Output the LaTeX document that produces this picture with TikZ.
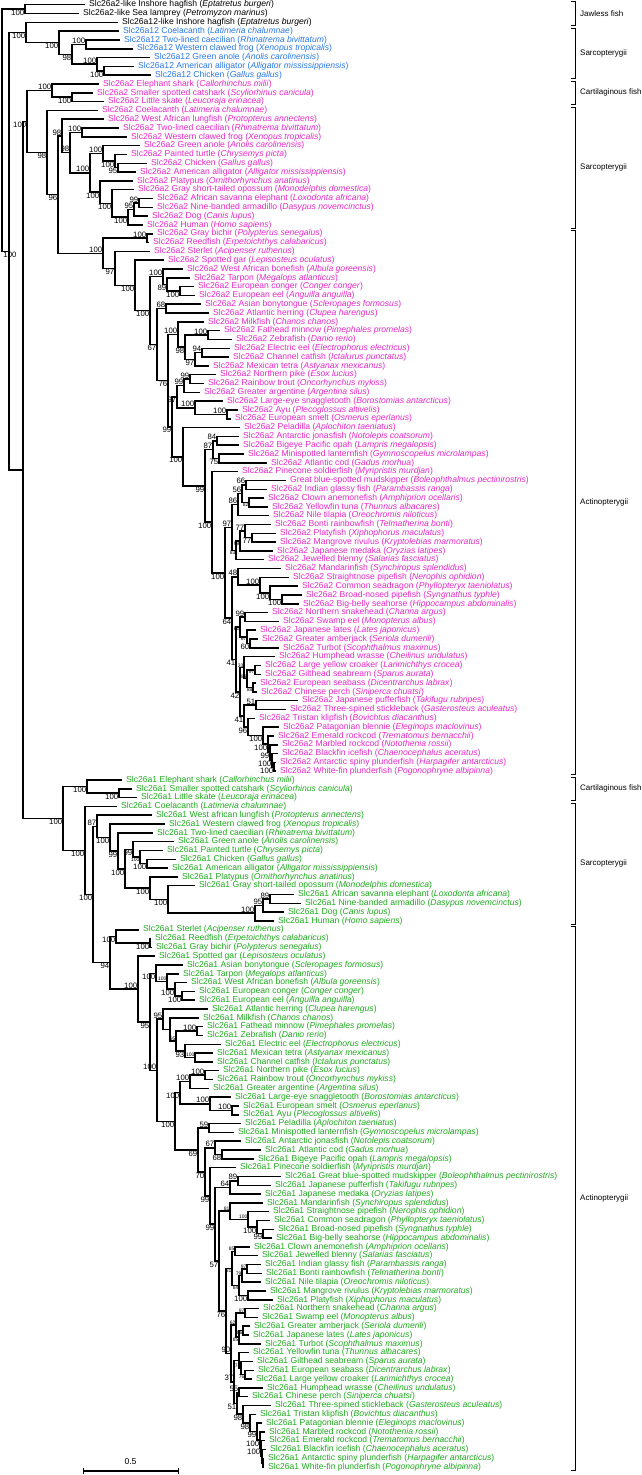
\documentclass[tikz,border=0pt]{standalone}
\usepackage{fontspec}
\setmainfont{Liberation Sans}
\usetikzlibrary{calc}
\definecolor{cblue}{RGB}{40,120,230}
\definecolor{cmag}{RGB}{230,40,200}
\definecolor{cgreen}{RGB}{30,170,30}
\newcommand\sci[1]{(\textit{#1})}
\def\Lt{Slc26a12 }
\def\Lb{Slc26a2 }
\def\La{Slc26a1 }
\def\lcol{black}
\newcommand\lf[4]{%
  \coordinate (#1) at ({#3-4},{4.7+(#2-1)*8.81});
  \node[lab] (#1t) at ({#3},{4.7+(#2-1)*8.81}) {#4};}
\newcommand\nd[6]{%
  \path (#3) -- (#4) coordinate[pos=.5] (#1m);
  \coordinate (#1) at (#2,0 |- #1m);
  \draw[br] (#3) -| (#1) |- (#4);
  \node[bs#6] (#1l) at (#1) {#5};}
\newcommand\clade[4]{%
  \draw[brk] (571,{4.7+(#2-1)*8.81-3}) -- (575,{4.7+(#2-1)*8.81-3}) -- (575,{4.7+(#3-1)*8.81+3}) -- (571,{4.7+(#3-1)*8.81+3});
  \node[clab] (#1) at (580,{4.7+((#2+#3)/2-1)*8.81}) {#4};}
\begin{document}
\begin{tikzpicture}[x=1pt,y=-1pt,
  br/.style={line width=1.5pt},
  brk/.style={line width=0.8pt},
  lab/.style={anchor=west,inner sep=0pt,font=\fontsize{8.6}{9}\selectfont,text=\lcol},
  clab/.style={anchor=west,inner sep=0pt,font=\fontsize{8}{9}\selectfont},
  bsa/.style={anchor=south east,inner sep=0.6pt,font=\fontsize{7.8}{8}\selectfont},
  bsb/.style={anchor=north east,inner sep=0.6pt,font=\fontsize{7.8}{8}\selectfont},
  bsc/.style={anchor=north,inner sep=0.6pt,xshift=1pt,font=\fontsize{7.8}{8}\selectfont},
  bssa/.style={anchor=south east,inner sep=0.3pt,font=\fontsize{5}{5}\selectfont},
  bssb/.style={anchor=north east,inner sep=0.3pt,font=\fontsize{5}{5}\selectfont}]
\useasboundingbox (0,0) rectangle (642,1475);
% ---------- leaves ----------
\def\lcol{black}
\lf{L1}{1}{89}{Slc26a2-like Inshore hagfish \sci{Eptatretus burgeri}}
\lf{L2}{2}{83}{Slc26a2-like Sea lamprey \sci{Petromyzon marinus}}
\lf{L3}{3}{122}{Slc26a12-like Inshore hagfish \sci{Eptatretus burgeri}}
\def\lcol{cblue}
\lf{L4}{4}{123}{\Lt Coelacanth \sci{Latimeria chalumnae}}
\lf{L5}{5}{124}{\Lt Two-lined caecilian \sci{Rhinatrema bivittatum}}
\lf{L6}{6}{137}{\Lt Western clawed frog \sci{Xenopus tropicalis}}
\lf{L7}{7}{154}{\Lt Green anole \sci{Anolis carolinensis}}
\lf{L8}{8}{138}{\Lt American alligator \sci{Alligator mississippiensis}}
\lf{L9}{9}{155}{\Lt Chicken \sci{Gallus gallus}}
\def\lcol{cmag}
\lf{L10}{10}{103}{\Lb Elephant shark \sci{Callorhinchus milii}}
\lf{L11}{11}{97}{\Lb Smaller spotted catshark \sci{Scyliorhinus canicula}}
\lf{L12}{12}{108}{\Lb Little skate \sci{Leucoraja erinacea}}
\lf{L13}{13}{102}{\Lb Coelacanth \sci{Latimeria chalumnae}}
\lf{L14}{14}{108}{\Lb West African lungfish \sci{Protopterus annectens}}
\lf{L15}{15}{123}{\Lb Two-lined caecilian \sci{Rhinatrema bivittatum}}
\lf{L16}{16}{131}{\Lb Western clawed frog \sci{Xenopus tropicalis}}
\lf{L17}{17}{144}{\Lb Green anole \sci{Anolis carolinensis}}
\lf{L18}{18}{131}{\Lb Painted turtle \sci{Chrysemys picta}}
\lf{L19}{19}{151}{\Lb Chicken \sci{Gallus gallus}}
\lf{L20}{20}{140}{\Lb American alligator \sci{Alligator mississippiensis}}
\lf{L21}{21}{137}{\Lb Platypus \sci{Ornithorhynchus anatinus}}
\lf{L22}{22}{138}{\Lb Gray short-tailed opossum \sci{Monodelphis domestica}}
\lf{L23}{23}{157}{\Lb African savanna elephant \sci{Loxodonta africana}}
\lf{L24}{24}{157}{\Lb Nine-banded armadillo \sci{Dasypus novemcinctus}}
\lf{L25}{25}{152}{\Lb Dog \sci{Canis lupus}}
\lf{L26}{26}{147}{\Lb Human \sci{Homo sapiens}}
\lf{L27}{27}{157}{\Lb Gray bichir \sci{Polypterus senegalus}}
\lf{L28}{28}{153}{\Lb Reedfish \sci{Erpetoichthys calabaricus}}
\lf{L29}{29}{154}{\Lb Sterlet \sci{Acipenser ruthenus}}
\lf{L30}{30}{168}{\Lb Spotted gar \sci{Lepisosteus oculatus}}
\lf{L31}{31}{187}{\Lb West African bonefish \sci{Albula goreensis}}
\lf{L32}{32}{194}{\Lb Tarpon \sci{Megalops atlanticus}}
\lf{L33}{33}{198}{\Lb European conger \sci{Conger conger}}
\lf{L34}{34}{199}{\Lb European eel \sci{Anguilla anguilla}}
\lf{L35}{35}{205}{\Lb Asian bonytongue \sci{Scleropages formosus}}
\lf{L36}{36}{213}{\Lb Atlantic herring \sci{Clupea harengus}}
\lf{L37}{37}{208}{\Lb Milkfish \sci{Chanos chanos}}
\lf{L38}{38}{224}{\Lb Fathead minnow \sci{Pimephales promelas}}
\lf{L39}{39}{236}{\Lb Zebrafish \sci{Danio rerio}}
\lf{L40}{40}{234}{\Lb Electric eel \sci{Electrophorus electricus}}
\lf{L41}{41}{233}{\Lb Channel catfish \sci{Ictalurus punctatus}}
\lf{L42}{42}{213}{\Lb Mexican tetra \sci{Astyanax mexicanus}}
\lf{L43}{43}{220}{\Lb Northern pike \sci{Esox lucius}}
\lf{L44}{44}{208}{\Lb Rainbow trout \sci{Oncorhynchus mykiss}}
\lf{L45}{45}{204}{\Lb Greater argentine \sci{Argentina silus}}
\lf{L46}{46}{227}{\Lb Large-eye snaggletooth \sci{Borostomias antarcticus}}
\lf{L47}{47}{242}{\Lb Ayu \sci{Plecoglossus altivelis}}
\lf{L48}{48}{235}{\Lb European smelt \sci{Osmerus eperlanus}}
\lf{L49}{49}{244}{\Lb Peladilla \sci{Aplochiton taeniatus}}
\lf{L50}{50}{243}{\Lb Antarctic jonasfish \sci{Notolepis coatsorum}}
\lf{L51}{51}{243}{\Lb Bigeye Pacific opah \sci{Lampris megalopsis}}
\lf{L52}{52}{248}{\Lb Minispotted lanternfish \sci{Gymnoscopelus microlampas}}
\lf{L53}{53}{271}{\Lb Atlantic cod \sci{Gadus morhua}}
\lf{L54}{54}{242}{\Lb Pinecone soldierfish \sci{Myripristis murdjan}}
\lf{L55}{55}{290}{Great blue-spotted mudskipper \sci{Boleophthalmus pectinirostris}}
\lf{L56}{56}{271}{\Lb Indian glassy fish \sci{Parambassis ranga}}
\lf{L57}{57}{268}{\Lb Clown anemonefish \sci{Amphiprion ocellaris}}
\lf{L58}{58}{272}{\Lb Yellowfin tuna \sci{Thunnus albacares}}
\lf{L59}{59}{273}{\Lb Nile tilapia \sci{Oreochromis niloticus}}
\lf{L60}{60}{275}{\Lb Bonti rainbowfish \sci{Telmatherina bonti}}
\lf{L61}{61}{280}{\Lb Platyfish \sci{Xiphophorus maculatus}}
\lf{L62}{62}{280}{\Lb Mangrove rivulus \sci{Kryptolebias marmoratus}}
\lf{L63}{63}{277}{\Lb Japanese medaka \sci{Oryzias latipes}}
\lf{L64}{64}{268}{\Lb Jewelled blenny \sci{Salarias fasciatus}}
\lf{L65}{65}{285}{\Lb Mandarinfish \sci{Synchiropus splendidus}}
\lf{L66}{66}{293}{\Lb Straightnose pipefish \sci{Nerophis ophidion}}
\lf{L67}{67}{302}{\Lb Common seadragon \sci{Phyllopteryx taeniolatus}}
\lf{L68}{68}{306}{\Lb Broad-nosed pipefish \sci{Syngnathus typhle}}
\lf{L69}{69}{303}{\Lb Big-belly seahorse \sci{Hippocampus abdominalis}}
\lf{L70}{70}{272}{\Lb Northern snakehead \sci{Channa argus}}
\lf{L71}{71}{283}{\Lb Swamp eel \sci{Monopterus albus}}
\lf{L72}{72}{260}{\Lb Japanese lates \sci{Lates japonicus}}
\lf{L73}{73}{262}{\Lb Greater amberjack \sci{Seriola dumerili}}
\lf{L74}{74}{283}{\Lb Turbot \sci{Scophthalmus maximus}}
\lf{L75}{75}{279}{\Lb Humphead wrasse \sci{Cheilinus undulatus}}
\lf{L76}{76}{265}{\Lb Large yellow croaker \sci{Larimichthys crocea}}
\lf{L77}{77}{265}{\Lb Gilthead seabream \sci{Sparus aurata}}
\lf{L78}{78}{260}{\Lb European seabass \sci{Dicentrarchus labrax}}
\lf{L79}{79}{261}{\Lb Chinese perch \sci{Siniperca chuatsi}}
\lf{L80}{80}{302}{\Lb Japanese pufferfish \sci{Takifugu rubripes}}
\lf{L81}{81}{290}{\Lb Three-spined stickleback \sci{Gasterosteus aculeatus}}
\lf{L82}{82}{259}{\Lb Tristan klipfish \sci{Bovichtus diacanthus}}
\lf{L83}{83}{283}{\Lb Patagonian blennie \sci{Eleginops maclovinus}}
\lf{L84}{84}{278}{\Lb Emerald rockcod \sci{Trematomus bernacchii}}
\lf{L85}{85}{282}{\Lb Marbled rockcod \sci{Notothenia rossii}}
\lf{L86}{86}{282}{\Lb Blackfin icefish \sci{Chaenocephalus aceratus}}
\lf{L87}{87}{280}{\Lb Antarctic spiny plunderfish \sci{Harpagifer antarcticus}}
\lf{L88}{88}{280}{\Lb White-fin plunderfish \sci{Pogonophryne albipinna}}
\def\lcol{cgreen}
\lf{L89}{89}{126}{\La Elephant shark \sci{Callorhinchus milii}}
\lf{L90}{90}{136}{\La Smaller spotted catshark \sci{Scyliorhinus canicula}}
\lf{L91}{91}{141}{\La Little skate \sci{Leucoraja erinacea}}
\lf{L92}{92}{121}{\La Coelacanth \sci{Latimeria chalumnae}}
\lf{L93}{93}{156}{\La West african lungfish \sci{Protopterus annectens}}
\lf{L94}{94}{169}{\La Western clawed frog \sci{Xenopus tropicalis}}
\lf{L95}{95}{157}{\La Two-lined caecilian \sci{Rhinatrema bivittatum}}
\lf{L96}{96}{178}{\La Green anole \sci{Anolis carolinensis}}
\lf{L97}{97}{167}{\La Painted turtle \sci{Chrysemys picta}}
\lf{L98}{98}{180}{\La Chicken \sci{Gallus gallus}}
\lf{L99}{99}{172}{\La American alligator \sci{Alligator mississippiensis}}
\lf{L100}{100}{182}{\La Platypus \sci{Ornithorhynchus anatinus}}
\lf{L101}{101}{199}{\La Gray short-tailed opossum \sci{Monodelphis domestica}}
\lf{L102}{102}{298}{\La African savanna elephant \sci{Loxodonta africana}}
\lf{L103}{103}{305}{\La Nine-banded armadillo \sci{Dasypus novemcinctus}}
\lf{L104}{104}{288}{\La Dog \sci{Canis lupus}}
\lf{L105}{105}{278}{\La Human \sci{Homo sapiens}}
\lf{L106}{106}{143}{\La Sterlet \sci{Acipenser ruthenus}}
\lf{L107}{107}{155}{\La Reedfish \sci{Erpetoichthys calabaricus}}
\lf{L108}{108}{156}{\La Gray bichir \sci{Polypterus senegalus}}
\lf{L109}{109}{159}{\La Spotted gar \sci{Lepisosteus oculatus}}
\lf{L110}{110}{187}{\La Asian bonytongue \sci{Scleropages formosus}}
\lf{L111}{111}{183}{\La Tarpon \sci{Megalops atlanticus}}
\lf{L112}{112}{191}{\La West African bonefish \sci{Albula goreensis}}
\lf{L113}{113}{199}{\La European conger \sci{Conger conger}}
\lf{L114}{114}{199}{\La European eel \sci{Anguilla anguilla}}
\lf{L115}{115}{212}{\La Atlantic herring \sci{Clupea harengus}}
\lf{L116}{116}{203}{\La Milkfish \sci{Chanos chanos}}
\lf{L117}{117}{207}{\La Fathead minnow \sci{Pimephales promelas}}
\lf{L118}{118}{207}{\La Zebrafish \sci{Danio rerio}}
\lf{L119}{119}{225}{\La Electric eel \sci{Electrophorus electricus}}
\lf{L120}{120}{217}{\La Mexican tetra \sci{Astyanax mexicanus}}
\lf{L121}{121}{217}{\La Channel catfish \sci{Ictalurus punctatus}}
\lf{L122}{122}{223}{\La Northern pike \sci{Esox lucius}}
\lf{L123}{123}{217}{\La Rainbow trout \sci{Oncorhynchus mykiss}}
\lf{L124}{124}{213}{\La Greater argentine \sci{Argentina silus}}
\lf{L125}{125}{235}{\La Large-eye snaggletooth \sci{Borostomias antarcticus}}
\lf{L126}{126}{243}{\La European smelt \sci{Osmerus eperlanus}}
\lf{L127}{127}{243}{\La Ayu \sci{Plecoglossus altivelis}}
\lf{L128}{128}{245}{\La Peladilla \sci{Aplochiton taeniatus}}
\lf{L129}{129}{238}{\La Minispotted lanternfish \sci{Gymnoscopelus microlampas}}
\lf{L130}{130}{245}{\La Antarctic jonasfish \sci{Notolepis coatsorum}}
\lf{L131}{131}{265}{\La Atlantic cod \sci{Gadus morhua}}
\lf{L132}{132}{258}{\La Bigeye Pacific opah \sci{Lampris megalopsis}}
\lf{L133}{133}{240}{\La Pinecone soldierfish \sci{Myripristis murdjan}}
\lf{L134}{134}{285}{\La Great blue-spotted mudskipper \sci{Boleophthalmus pectinirostris}}
\lf{L135}{135}{275}{\La Japanese pufferfish \sci{Takifugu rubripes}}
\lf{L136}{136}{265}{\La Japanese medaka \sci{Oryzias latipes}}
\lf{L137}{137}{267}{\La Mandarinfish \sci{Synchiropus splendidus}}
\lf{L138}{138}{273}{\La Straightnose pipefish \sci{Nerophis ophidion}}
\lf{L139}{139}{274}{\La Common seadragon \sci{Phyllopteryx taeniolatus}}
\lf{L140}{140}{278}{\La Broad-nosed pipefish \sci{Syngnathus typhle}}
\lf{L141}{141}{276}{\La Big-belly seahorse \sci{Hippocampus abdominalis}}
\lf{L142}{142}{254}{\La Clown anemonefish \sci{Amphiprion ocellaris}}
\lf{L143}{143}{262}{\La Jewelled blenny \sci{Salarias fasciatus}}
\lf{L144}{144}{265}{\La Indian glassy fish \sci{Parambassis ranga}}
\lf{L145}{145}{266}{\La Bonti rainbowfish \sci{Telmatherina bonti}}
\lf{L146}{146}{265}{\La Nile tilapia \sci{Oreochromis niloticus}}
\lf{L147}{147}{270}{\La Mangrove rivulus \sci{Kryptolebias marmoratus}}
\lf{L148}{148}{277}{\La Platyfish \sci{Xiphophorus maculatus}}
\lf{L149}{149}{263}{\La Northern snakehead \sci{Channa argus}}
\lf{L150}{150}{262}{\La Swamp eel \sci{Monopterus albus}}
\lf{L151}{151}{254}{\La Greater amberjack \sci{Seriola dumerili}}
\lf{L152}{152}{253}{\La Japanese lates \sci{Lates japonicus}}
\lf{L153}{153}{265}{\La Turbot \sci{Scophthalmus maximus}}
\lf{L154}{154}{253}{\La Yellowfin tuna \sci{Thunnus albacares}}
\lf{L155}{155}{257}{\La Gilthead seabream \sci{Sparus aurata}}
\lf{L156}{156}{258}{\La European seabass \sci{Dicentrarchus labrax}}
\lf{L157}{157}{256}{\La Large yellow croaker \sci{Larimichthys crocea}}
\lf{L158}{158}{267}{\La Humphead wrasse \sci{Cheilinus undulatus}}
\lf{L159}{159}{252}{\La Chinese perch \sci{Siniperca chuatsi}}
\lf{L160}{160}{275}{\La Three-spined stickleback \sci{Gasterosteus aculeatus}}
\lf{L161}{161}{260}{\La Tristan klipfish \sci{Bovichtus diacanthus}}
\lf{L162}{162}{266}{\La Patagonian blennie \sci{Eleginops maclovinus}}
\lf{L163}{163}{269}{\La Marbled rockcod \sci{Notothenia rossii}}
\lf{L164}{164}{269}{\La Emerald rockcod \sci{Trematomus bernacchii}}
\lf{L165}{165}{270}{\La Blackfin icefish \sci{Chaenocephalus aceratus}}
\lf{L166}{166}{268}{\La Antarctic spiny plunderfish \sci{Harpagifer antarcticus}}
\lf{L167}{167}{268}{\La White-fin plunderfish \sci{Pogonophryne albipinna}}
% ---------- internal nodes: top ----------
\nd{J}{25}{L1}{L2}{100}{b}
\nd{ac12}{104}{L8}{L9}{100}{b}
\nd{sa12}{97}{L7}{ac12}{100}{a}
\nd{cf12}{86}{L5}{L6}{100}{a}
\nd{tet12}{72}{cf12}{sa12}{98}{b}
\nd{n12}{59}{L4}{tet12}{100}{b}
\nd{all12}{26}{L3}{n12}{100}{b}
% ---------- Slc26a2 ----------
\nd{cs2}{72}{L11}{L12}{100}{b}
\nd{cart2}{52}{L10}{cs2}{100}{a}
\nd{ea2}{139}{L23}{L24}{99}{a}
\nd{ead2}{134}{ea2}{L25}{95}{a}
\nd{eu2}{128}{ead2}{L26}{100}{b}
\nd{ther2}{112}{L22}{eu2}{100}{b}
\nd{mam2}{100}{L21}{ther2}{100}{b}
\nd{ca2}{118}{L19}{L20}{95}{b}
\nd{tca2}{115}{L18}{ca2}{100}{b}
\nd{saur2}{103}{L17}{tca2}{100}{a}
\nd{amn2}{90}{saur2}{mam2}{100}{a}
\nd{cf2}{82}{L15}{L16}{100}{a}
\nd{tet2}{70}{cf2}{amn2}{98}{a}
\nd{lt2}{62}{L14}{tet2}{98}{a}
\nd{polyp2}{147}{L27}{L28}{100}{a}
\nd{ce2}{180}{L33}{L34}{100}{b}
\nd{tce2}{167}{L32}{ce2}{89}{b}
\nd{elo2}{163}{L31}{tce2}{100}{a}
\nd{bh2}{166}{L35}{L36}{68}{a}
\nd{fz2}{208}{L38}{L39}{100}{a}
\nd{ec2}{202}{L40}{L41}{94}{a}
\nd{ect2}{195}{ec2}{L42}{97}{b}
\nd{fzect2}{185}{fz2}{ect2}{98}{b}
\nd{oto2}{178}{L37}{fzect2}{100}{a}
\nd{pt2}{190}{L43}{L44}{99}{a}
\nd{ptarg2}{184}{pt2}{L45}{99}{a}
\nd{as2}{227}{L47}{L48}{100}{a}
\nd{sas2}{195}{L46}{as2}{100}{a}
\nd{prot2}{177}{ptarg2}{sas2}{97}{b}
\nd{jo2}{217}{L50}{L51}{84}{a}
\nd{lc2}{219}{L52}{L53}{75}{b}
\nd{jlc2}{213}{jo2}{lc2}{87}{a}
\nd{mg2}{246}{L55}{L56}{66}{a}
\nd{ct2}{249}{L57}{L58}{82}{sb}
\nd{mgct2}{242}{mg2}{ct2}{56}{a}
\nd{A2}{238}{mgct2}{L59}{86}{a}
\nd{pr2}{252}{L61}{L62}{77}{b}
\nd{bpr2}{245}{L60}{pr2}{77}{a}
\nd{bprm2}{240}{bpr2}{L63}{99}{sb}
\nd{bprmb2}{236}{bprm2}{L64}{83}{sb}
\nd{AB2}{232}{A2}{bprmb2}{97}{a}
\nd{bs2}{282}{L68}{L69}{100}{b}
\nd{sbs2}{270}{L67}{bs2}{100}{b}
\nd{syng2}{260}{L66}{sbs2}{100}{a}
\nd{msyng2}{238}{L65}{syng2}{48}{a}
\nd{sh2}{245}{L70}{L71}{99}{a}
\nd{at2}{250}{L73}{L74}{60}{b}
\nd{lat2}{247}{L72}{at2}{67}{sb}
\nd{shl2}{240}{sh2}{lat2}{61}{sb}
\nd{csb2}{255}{L76}{L77}{97}{sb}
\nd{spc2}{253}{L78}{L79}{88}{sb}
\nd{q2}{247}{csb2}{spc2}{98}{sa}
\nd{hp2}{244}{L75}{q2}{33}{sa}
\nd{ps2}{256}{L80}{L81}{51}{a}
\nd{ntc2}{274}{L87}{L88}{100}{b}
\nd{ntb2}{272}{L86}{ntc2}{100}{b}
\nd{nta2}{270}{L85}{ntb2}{99}{b}
\nd{nte2}{268}{L84}{nta2}{100}{b}
\nd{ntp2}{263}{L83}{nte2}{100}{b}
\nd{ntt2}{248}{L82}{ntp2}{96}{b}
\nd{psnt2}{244}{ps2}{ntt2}{41}{b}
\nd{Za}{240}{hp2}{psnt2}{42}{b}
\nd{Zb}{236}{shl2}{Za}{41}{b}
\nd{Zc}{232}{msyng2}{Zb}{64}{b}
\nd{Zd}{225}{AB2}{Zc}{100}{b}
\nd{Ze}{212}{L54}{Zd}{100}{b}
\nd{Zf}{205}{jlc2}{Ze}{99}{b}
\nd{Zg}{183}{L49}{Zf}{100}{b}
\nd{eut2}{172}{prot2}{Zg}{99}{b}
\nd{Xb}{168}{oto2}{eut2}{76}{b}
\nd{ost2}{157}{bh2}{Xb}{67}{b}
\nd{tel2}{150}{elo2}{ost2}{100}{b}
\nd{neo2}{135}{L30}{tel2}{100}{b}
\nd{rest2}{115}{L29}{neo2}{97}{b}
\nd{act2}{103}{polyp2}{rest2}{100}{a}
\nd{P2}{58}{lt2}{act2}{96}{b}
\nd{Q2}{47}{L13}{P2}{98}{b}
\nd{a2r}{27}{cart2}{Q2}{100}{b}
% ---------- Slc26a1 ----------
\nd{cs1}{119}{L90}{L91}{100}{b}
\nd{cart1}{87}{L89}{cs1}{100}{b}
\nd{ea1}{270}{L102}{L103}{89}{a}
\nd{ead1}{263}{ea1}{L104}{95}{a}
\nd{eu1}{255}{ead1}{L105}{100}{a}
\nd{ther1}{168}{L101}{eu1}{100}{b}
\nd{mam1}{150}{L100}{ther1}{100}{b}
\nd{ca1}{147}{L98}{L99}{100}{b}
\nd{tca1}{140}{L97}{ca1}{100}{sb}
\nd{saur1}{133}{L96}{tca1}{99}{b}
\nd{amn1}{125}{saur1}{mam1}{100}{b}
\nd{cx1}{118}{L95}{amn1}{99}{b}
\nd{fcx1}{110}{L94}{cx1}{100}{b}
\nd{lfcx1}{97}{L93}{fcx1}{87}{a}
\nd{polyp1}{150}{L107}{L108}{100}{b}
\nd{sp1}{116}{L106}{polyp1}{100}{b}
\nd{ce1}{182}{L113}{L114}{100}{b}
\nd{bce1}{175}{L112}{ce1}{100}{b}
\nd{elo1}{167}{L111}{bce1}{100}{sa}
\nd{ob1}{156}{L110}{elo1}{100}{b}
\nd{fz1}{197}{L117}{L118}{100}{a}
\nd{tc1}{195}{L120}{L121}{100}{sa}
\nd{etc1}{185}{L119}{tc1}{93}{b}
\nd{fzetc1}{176}{fz1}{etc1}{95}{sa}
\nd{oto1}{170}{L116}{fzetc1}{}{a}
\nd{cl1}{163}{L115}{oto1}{95}{a}
\nd{pt1}{205}{L122}{L123}{100}{a}
\nd{ptarg1}{190}{pt1}{L124}{100}{a}
\nd{as1}{232}{L126}{L127}{100}{a}
\nd{sas1}{210}{L125}{as1}{100}{a}
\nd{prot1}{180}{ptarg1}{sas1}{100}{b}
\nd{pl1}{209}{L128}{L129}{59}{a}
\nd{co1}{222}{L131}{L132}{68}{b}
\nd{jco1}{215}{L130}{co1}{67}{a}
\nd{mp1}{238}{L134}{L135}{89}{a}
\nd{mpm1}{230}{mp1}{L136}{64}{a}
\nd{bs1}{263}{L140}{L141}{99}{b}
\nd{sbs1}{257}{L139}{bs1}{100}{b}
\nd{syng1}{248}{L138}{sbs1}{100}{sa}
\nd{msyng1}{230}{L137}{syng1}{81}{sa}
\nd{clb1}{235}{L142}{L143}{85}{sa}
\nd{gb1}{247}{L144}{L145}{97}{sa}
\nd{gbt1}{242}{gb1}{L146}{79}{sa}
\nd{rp1}{248}{L147}{L148}{100}{b}
\nd{gbtrp1}{239}{gbt1}{rp1}{84}{sb}
\nd{oval1}{232}{clb1}{gbtrp1}{81}{sb}
\nd{ss1}{245}{L149}{L150}{97}{sa}
\nd{al1}{243}{L151}{L152}{86}{sb}
\nd{alt1}{239}{al1}{L153}{85}{sb}
\nd{ssalt1}{236}{ss1}{alt1}{62}{sa}
\nd{sc1}{245}{L156}{L157}{76}{sb}
\nd{ssc1}{241}{L155}{sc1}{74}{sa}
\nd{q1}{239}{L154}{ssc1}{}{a}
\nd{hp1}{239}{L158}{L159}{55}{a}
\nd{nc1}{263}{L166}{L167}{}{b}
\nd{nb1}{262}{L165}{nc1}{}{b}
\nd{ne1}{261}{L164}{nb1}{100}{b}
\nd{nm1}{260}{L163}{ne1}{100}{b}
\nd{np1}{257}{L162}{nm1}{99}{b}
\nd{nt1}{250}{L161}{np1}{98}{b}
\nd{nst1}{243}{L160}{nt1}{98}{b}
\nd{Ya}{237}{hp1}{nst1}{51}{b}
\nd{Yb}{234}{q1}{Ya}{37}{a}
\nd{Yc}{231}{ssalt1}{Yb}{90}{a}
\nd{Yd}{226}{oval1}{Yc}{76}{b}
\nd{Ye}{219}{msyng1}{Yd}{57}{b}
\nd{Yf}{215}{mpm1}{Ye}{99}{b}
\nd{Yg}{210}{L133}{Yf}{99}{b}
\nd{Yh}{205}{jco1}{Yg}{70}{b}
\nd{Yi}{198}{pl1}{Yh}{69}{b}
\nd{eut1}{175}{prot1}{Yi}{100}{b}
\nd{clup1}{157}{cl1}{eut1}{100}{a}
\nd{tel1}{150}{ob1}{clup1}{95}{b}
\nd{neo1}{138}{L109}{tel1}{100}{a}
\nd{act1}{110}{sp1}{neo1}{94}{b}
\nd{P1}{93}{lfcx1}{act1}{100}{b}
\nd{ost1}{85}{L92}{P1}{100}{b}
\nd{a1r}{63}{cart1}{ost1}{100}{b}
% ---------- backbone ----------
\nd{Y}{23}{a2r}{a1r}{}{b}
\nd{X}{9}{all12}{Y}{100}{c}
\nd{root}{2}{J}{X}{}{b}
% ---------- clade brackets ----------
\clade{c1}{1}{3}{Jawless fish}
\clade{c2}{4}{9}{Sarcopterygii}
\clade{c3}{10}{12}{Cartilaginous fish}
\clade{c4}{13}{26}{Sarcopterygii}
\clade{c5}{27}{88}{Actinopterygii}
\clade{c6}{89}{91}{Cartilaginous fish}
\clade{c7}{92}{105}{Sarcopterygii}
\clade{c8}{106}{167}{Actinopterygii}
% ---------- scale bar ----------
\coordinate (sbA) at (83,1471);
\coordinate (sbB) at (178,1471);
\draw[line width=1.2pt] (sbA) -- (sbB);
\draw[line width=1pt] ([yshift=3pt]sbA) -- ([yshift=-3pt]sbA);
\draw[line width=1pt] ([yshift=3pt]sbB) -- ([yshift=-3pt]sbB);
\node[font=\fontsize{8.6}{9}\selectfont,inner sep=0pt] (sbl) at (130.5,1462) {0.5};
\end{tikzpicture}
\end{document}
